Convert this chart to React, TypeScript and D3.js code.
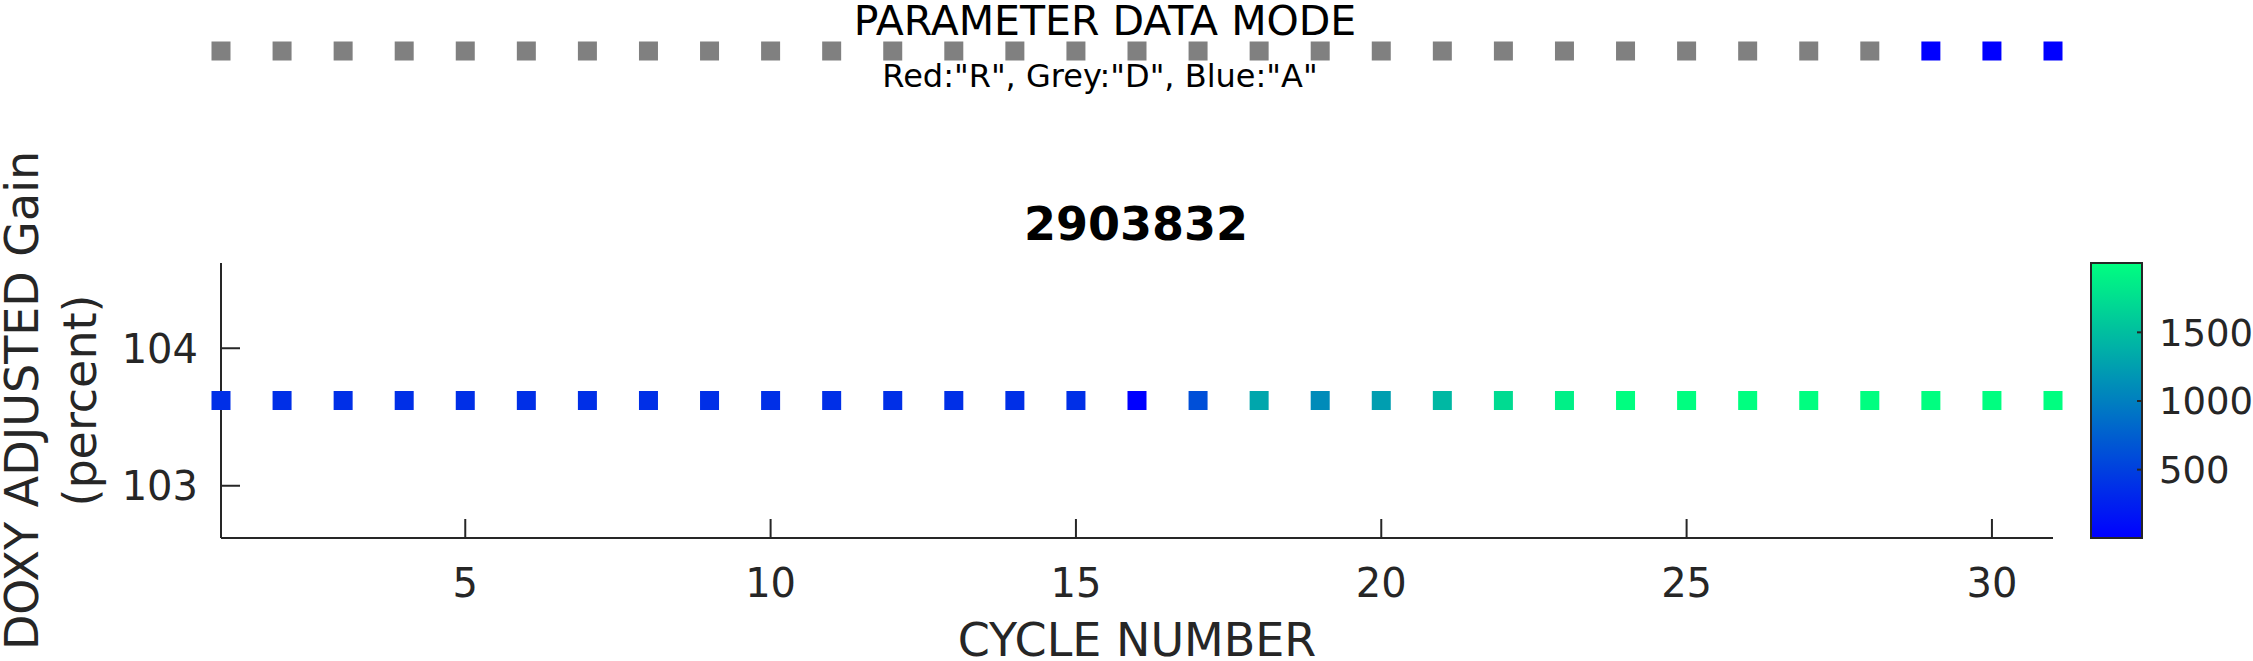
import React from "react";
import * as d3 from "d3";

const cycles: number[] = [1,2,3,4,5,6,7,8,9,10,11,12,13,14,15,16,17,18,19,20,21,22,23,24,25,26,27,28,29,30,31];
const gain: number[] = [103.62,103.62,103.62,103.62,103.62,103.62,103.62,103.62,103.62,103.62,103.62,103.62,103.62,103.62,103.62,103.62,103.62,103.62,103.62,103.62,103.62,103.62,103.62,103.62,103.62,103.62,103.62,103.62,103.62,103.62,103.62];
const colorValue: number[] = [375,375,375,375,375,375,375,375,375,375,375,375,375,375,375,2,620,1305,1094,1244,1444,1725,1885,2000,2000,2005,2000,2000,2000,2000,2000];
const dataMode: string[] = ["D","D","D","D","D","D","D","D","D","D","D","D","D","D","D","D","D","D","D","D","D","D","D","D","D","D","D","D","A","A","A"];
const xTicks: number[] = [5,10,15,20,25,30];
const yTicks: number[] = [103,104];
const cTicks: number[] = [500,1000,1500];
const xDomain: [number, number] = [1, 31];
const yDomain: [number, number] = [102.62, 104.62];
const modeColors: Record<string, string> = { R: "#ff0000", D: "#808080", A: "#0000ff" };

const FONT = "'DejaVu Sans', sans-serif";
const AX = "#262626";

const winter = (t: number) => d3.rgb(0, Math.round(255 * t), Math.round(255 * (1 - 0.5 * t))).formatHex();

export default function App() {
  const W = 2253, H = 661;
  const left = 221, right = 2053, top = 263, bottom = 538;
  const x = d3.scaleLinear().domain(xDomain).range([left, right]);
  const y = d3.scaleLinear().domain(yDomain).range([bottom, top]);
  const cExt = d3.extent(colorValue) as [number, number];
  const c = d3.scaleLinear().domain(cExt).range([0, 1]);
  const cy = d3.scaleLinear().domain(cExt).range([bottom, top]);
  const cbX = 2091, cbW = 51;
  const ms = 19;
  const stripY = 51;
  const stops = d3.range(0, 1.0001, 0.05);

  return (
    <svg width={W} height={H} style={{ position: "absolute", left: 0, top: 0, background: "#fff" }} fontFamily={FONT}>
      <defs>
        <linearGradient id="cb" x1="0" y1="1" x2="0" y2="0">
          {stops.map((s) => (
            <stop key={s} offset={s} stopColor={winter(s)} />
          ))}
        </linearGradient>
      </defs>
      <rect x={0} y={0} width={W} height={H} fill="#fff" />

      {/* Data mode strip */}
      <text x={1105} y={35} textAnchor="middle" fontSize={41} fill="#000">PARAMETER DATA MODE</text>
      {cycles.map((cyc, i) => (
        <rect key={"m" + i} x={x(cyc) - ms / 2} y={stripY - ms / 2} width={ms} height={ms} fill={modeColors[dataMode[i]]} />
      ))}
      <text x={1100} y={87} textAnchor="middle" fontSize={32} fill="#000">Red:"R", Grey:"D", Blue:"A"</text>

      {/* Title */}
      <text x={1136} y={240} textAnchor="middle" fontSize={46} fontWeight="bold" fill="#000">2903832</text>

      {/* Axes */}
      <line x1={left} x2={left} y1={top} y2={bottom} stroke={AX} strokeWidth={2} />
      <line x1={left} x2={right} y1={bottom} y2={bottom} stroke={AX} strokeWidth={2} />
      {xTicks.map((t) => (
        <g key={"xt" + t}>
          <line x1={x(t)} x2={x(t)} y1={bottom} y2={bottom - 19} stroke={AX} strokeWidth={2} />
          <text x={x(t)} y={597} textAnchor="middle" fontSize={40} fill={AX}>{t}</text>
        </g>
      ))}
      {yTicks.map((t) => (
        <g key={"yt" + t}>
          <line x1={left} x2={left + 19} y1={y(t)} y2={y(t)} stroke={AX} strokeWidth={2} />
          <text x={198} y={y(t)} dy="0.36em" textAnchor="end" fontSize={40} fill={AX}>{t}</text>
        </g>
      ))}

      {/* Markers */}
      {cycles.map((cyc, i) => (
        <rect key={"p" + i} x={x(cyc) - ms / 2} y={y(gain[i]) - ms / 2} width={ms} height={ms} fill={winter(c(colorValue[i]))} />
      ))}

      {/* Axis labels */}
      <text x={1137} y={656} textAnchor="middle" fontSize={46} fill={AX}>CYCLE NUMBER</text>
      <g transform={`translate(38, ${(top + bottom) / 2}) rotate(-90)`}>
        <text x={0} y={0} textAnchor="middle" fontSize={46} fill={AX}>DOXY ADJUSTED Gain</text>
      </g>
      <g transform={`translate(96, ${(top + bottom) / 2}) rotate(-90)`}>
        <text x={0} y={0} textAnchor="middle" fontSize={46} fill={AX}>(percent)</text>
      </g>

      {/* Colorbar */}
      <rect x={cbX} y={top} width={cbW} height={bottom - top} fill="url(#cb)" stroke={AX} strokeWidth={2} />
      {cTicks.map((t) => (
        <g key={"ct" + t}>
          <line x1={cbX + cbW - 5} x2={cbX + cbW} y1={cy(t)} y2={cy(t)} stroke={AX} strokeWidth={2} />
          <text x={2159} y={cy(t)} dy="0.36em" fontSize={37} fill={AX}>{t}</text>
        </g>
      ))}
    </svg>
  );
}
